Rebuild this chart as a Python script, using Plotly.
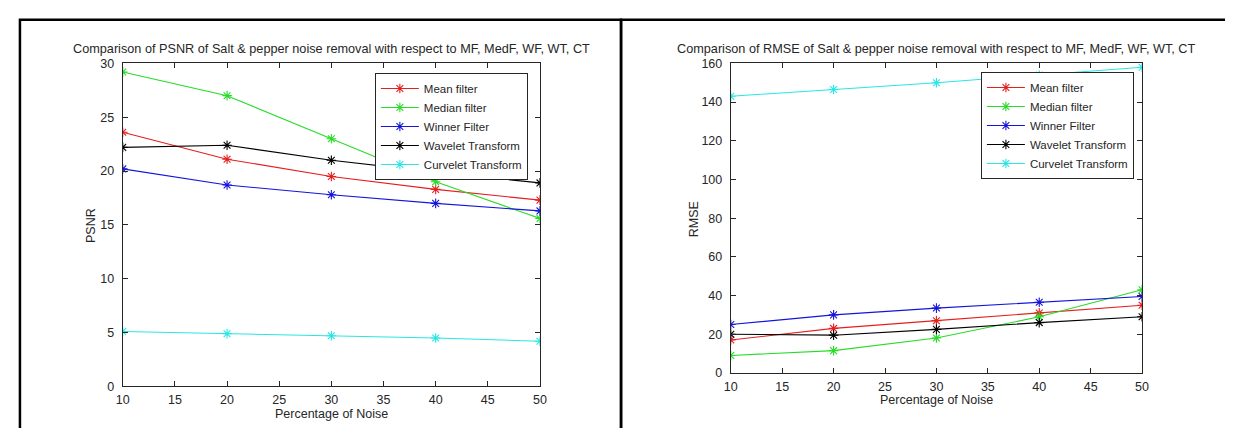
import plotly.graph_objects as go

noise = [10, 20, 30, 40, 50]
series_names = ["Mean filter", "Median filter", "Winner Filter", "Wavelet Transform", "Curvelet Transform"]

psnr_mean = [23.6, 21.1, 19.5, 18.3, 17.3]
psnr_median = [29.2, 27.0, 23.0, 19.0, 15.6]
psnr_winner = [20.2, 18.7, 17.8, 17.0, 16.3]
psnr_wavelet = [22.2, 22.4, 21.0, 19.9, 18.9]
psnr_curvelet = [5.1, 4.9, 4.7, 4.5, 4.2]

rmse_mean = [17.0, 23.0, 27.0, 31.0, 35.0]
rmse_median = [9.0, 11.5, 18.0, 29.0, 43.0]
rmse_winner = [25.0, 30.0, 33.5, 36.5, 39.5]
rmse_wavelet = [20.0, 19.5, 22.5, 26.0, 29.0]
rmse_curvelet = [143.0, 146.5, 150.0, 154.0, 158.0]

x_ticks = [10, 15, 20, 25, 30, 35, 40, 45, 50]
psnr_ticks = [0, 5, 10, 15, 20, 25, 30]
rmse_ticks = [0, 20, 40, 60, 80, 100, 120, 140, 160]

colors = ["rgb(230,30,30)", "rgb(40,220,40)", "rgb(20,20,220)", "rgb(0,0,0)", "rgb(40,230,230)"]

W, H = 1233, 428
FONT = "Liberation Sans, Arial, Helvetica, sans-serif"
TXT = "#262626"

fig = go.Figure()

psnr_sets = [psnr_mean, psnr_median, psnr_winner, psnr_wavelet, psnr_curvelet]
rmse_sets = [rmse_mean, rmse_median, rmse_winner, rmse_wavelet, rmse_curvelet]

for name, ys, c in zip(series_names, psnr_sets, colors):
    fig.add_trace(go.Scatter(
        x=noise, y=ys, name=name, mode="lines+markers",
        line=dict(color=c, width=1.1),
        marker=dict(symbol="asterisk-open", size=8, color=c, line=dict(color=c, width=1.1)),
        xaxis="x", yaxis="y", legend="legend"))

for name, ys, c in zip(series_names, rmse_sets, colors):
    fig.add_trace(go.Scatter(
        x=noise, y=ys, name=name, mode="lines+markers",
        line=dict(color=c, width=1.1),
        marker=dict(symbol="asterisk-open", size=8, color=c, line=dict(color=c, width=1.1)),
        xaxis="x2", yaxis="y2", legend="legend2"))

def px_x(p):
    return p / W

def px_y(p):
    return 1 - p / H

axis_common = dict(
    showline=True, linecolor=TXT, linewidth=1, mirror="ticks",
    ticks="inside", ticklen=5, tickcolor=TXT, tickwidth=1,
    showgrid=False, zeroline=False,
    tickfont=dict(family=FONT, size=12.5, color=TXT),
)

legend_common = dict(
    xanchor="left", yanchor="top",
    bgcolor="white", bordercolor=TXT, borderwidth=1,
    font=dict(family=FONT, size=11.5, color=TXT),
    tracegroupgap=0, itemwidth=38,
)

fig.update_layout(
    width=W, height=H,
    margin=dict(l=0, r=0, t=0, b=0),
    paper_bgcolor="white", plot_bgcolor="white",
    font=dict(family=FONT, size=12, color=TXT),
    xaxis=dict(domain=[px_x(109), px_x(531)], range=[10, 50], tickvals=x_ticks,
               anchor="y", ticklabelstandoff=2, **axis_common),
    yaxis=dict(domain=[px_y(384), px_y(50)], range=[0, 30], tickvals=psnr_ticks,
               anchor="x", ticklabelstandoff=5, **axis_common),
    xaxis2=dict(domain=[px_x(724), px_x(1140)], range=[10, 50], tickvals=x_ticks,
                anchor="y2", ticklabelstandoff=2, **axis_common),
    yaxis2=dict(domain=[px_y(370), px_y(50)], range=[0, 160], tickvals=rmse_ticks,
                anchor="x2", ticklabelstandoff=5, **axis_common),
    legend=dict(x=px_x(364), y=px_y(60), **legend_common),
    legend2=dict(x=px_x(977), y=px_y(59), **legend_common),
    showlegend=True,
)

title_font = dict(family=FONT, size=12.7, color=TXT)
label_font = dict(family=FONT, size=12.5, color=TXT)

annotations = [
    dict(text="Comparison of PSNR of Salt &amp; pepper noise removal with respect to MF, MedF, WF, WT, CT",
         x=px_x(320), y=px_y(35), xref="paper", yref="paper", showarrow=False,
         xanchor="center", yanchor="middle", font=title_font),
    dict(text="Comparison of RMSE of Salt &amp; pepper noise removal with respect to MF, MedF, WF, WT, CT",
         x=px_x(932), y=px_y(35), xref="paper", yref="paper", showarrow=False,
         xanchor="center", yanchor="middle", font=title_font),
    dict(text="Percentage of Noise", x=px_x(320), y=px_y(413), xref="paper", yref="paper",
         showarrow=False, xanchor="center", yanchor="middle", font=label_font),
    dict(text="Percentage of Noise", x=px_x(932), y=px_y(398), xref="paper", yref="paper",
         showarrow=False, xanchor="center", yanchor="middle", font=label_font),
    dict(text="PSNR", x=px_x(77), y=px_y(218), xref="paper", yref="paper", textangle=-90,
         showarrow=False, xanchor="center", yanchor="middle", font=label_font),
    dict(text="RMSE", x=px_x(687), y=px_y(211), xref="paper", yref="paper", textangle=-90,
         showarrow=False, xanchor="center", yanchor="middle", font=label_font),
]
fig.update_layout(annotations=annotations)

shapes = [
    dict(type="rect", xref="paper", yref="paper", x0=px_x(5), x1=px_x(613), y0=-0.1, y1=px_y(5),
         line=dict(color="black", width=2.5), layer="above"),
    dict(type="rect", xref="paper", yref="paper", x0=px_x(613), x1=px_x(1227), y0=-0.1, y1=px_y(5),
         line=dict(color="black", width=2.5), layer="above"),
]
fig.update_layout(shapes=shapes)

fig.write_html("out.html")
